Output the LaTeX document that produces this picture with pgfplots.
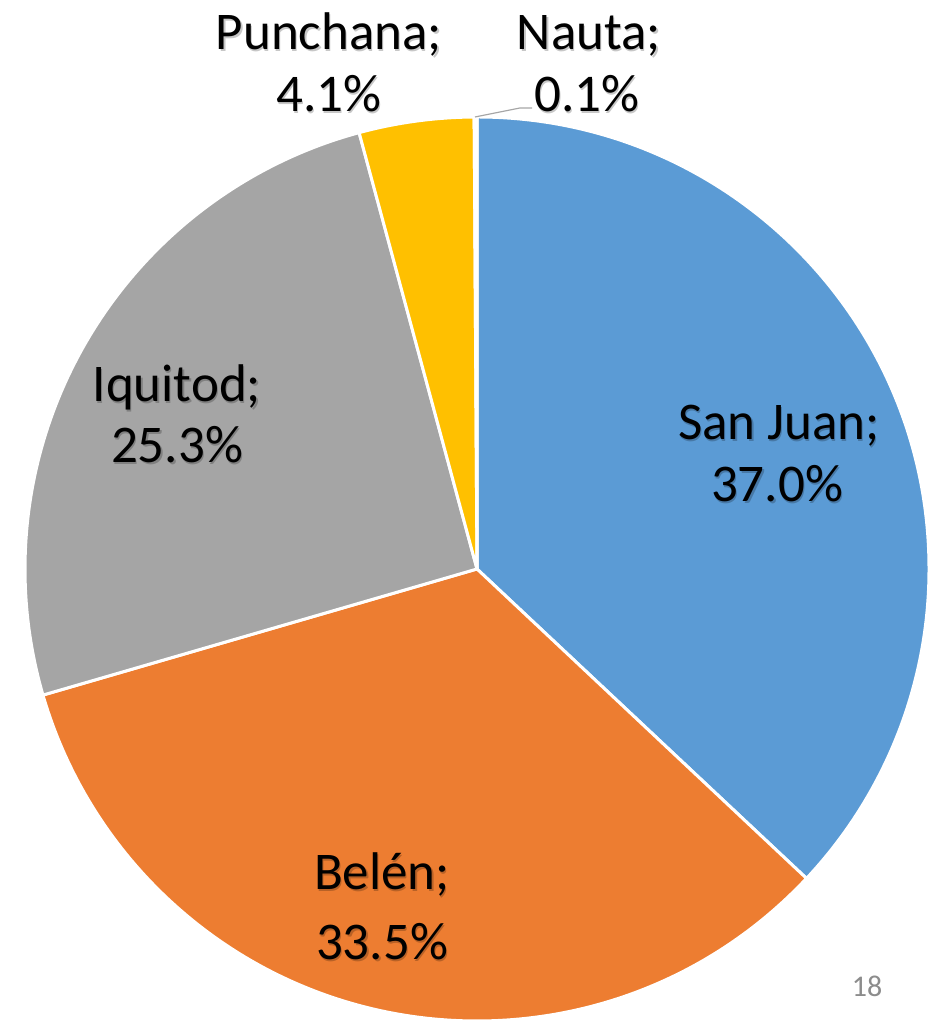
\documentclass[border=0pt]{standalone}
\usepackage{pgfplots}
\usepackage{pgfplotstable}
\pgfplotsset{compat=1.18}
\usepackage{fontspec}
\setmainfont{Carlito}
\definecolor{cBlue}{HTML}{5B9BD5}
\definecolor{cOrange}{HTML}{ED7D31}
\definecolor{cGray}{HTML}{A5A5A5}
\definecolor{cYellow}{HTML}{FFC000}
\definecolor{cNavy}{HTML}{4472C4}
\pgfplotstableread{
name      pct   color
SanJuan   37.0  cBlue
Belen     33.5  cOrange
Iquitod   25.3  cGray
Punchana  4.1   cYellow
Nauta     0.1   cNavy
}\piedata
\begin{document}
\begin{tikzpicture}
\begin{axis}[
  at={(0,0)}, anchor=south west,
  scale only axis, width=469.5pt, height=510pt,
  xmin=0, xmax=939, ymin=0, ymax=1020,
  hide axis, clip=true,
]
\def\cx{477}\def\cy{451}\def\rr{226pt}
\pgfplotstablegetrowsof{\piedata}
\pgfmathtruncatemacro{\nrows}{\pgfplotsretval-1}
\def\cum{0}
\pgfplotsforeachungrouped \i in {0,...,\nrows}{%
  \pgfplotstablegetelem{\i}{pct}\of{\piedata}\let\pct\pgfplotsretval
  \pgfplotstablegetelem{\i}{color}\of{\piedata}\let\col\pgfplotsretval
  \pgfmathsetmacro{\sa}{90-3.6*\cum}%
  \pgfmathsetmacro{\ea}{90-3.6*(\cum+\pct)}%
  \pgfmathsetmacro{\cum}{\cum+\pct}%
  \edef\temp{\noexpand\filldraw[fill=\col, draw=white, line width=1.5pt, line join=round]
    (axis cs:\cx,\cy) -- ++(\sa:\rr) arc[start angle=\sa, end angle=\ea, radius=\rr] -- cycle;}%
  \temp
}
% leader line for Nauta
\draw[gray!70, line width=0.6pt] (axis cs:475,903) -- (axis cs:520,912) -- (axis cs:532,912);
\tikzset{lbl/.style={anchor=base, font=\fontsize{26.5}{31}\selectfont, inner sep=0pt}}
\newcommand\lbl[3]{%
  \node[lbl, text=black, opacity=0.22, xshift=0.6pt, yshift=-0.6pt] at (axis cs:#1,#2) {#3};
  \node[lbl] at (axis cs:#1,#2) {#3};}
\lbl{779}{580}{San Juan;}
\lbl{777}{518}{37.0\%}
\lbl{382}{130}{Belén;}
\lbl{382}{60}{33.5\%}
\lbl{177}{618}{Iquitod;}
\lbl{177}{557}{25.3\%}
\lbl{329}{970}{Punchana;}
\lbl{329}{908}{4.1\%}
\lbl{589}{970}{Nauta;}
\lbl{587}{908}{0.1\%}
\node[anchor=base, font=\fontsize{15}{18}\selectfont, text=black!45, inner sep=0pt] at (axis cs:867,23) {18};
\end{axis}
\pgfresetboundingbox
\useasboundingbox (0,0) rectangle (469.5pt,510pt);
\end{tikzpicture}
\end{document}
